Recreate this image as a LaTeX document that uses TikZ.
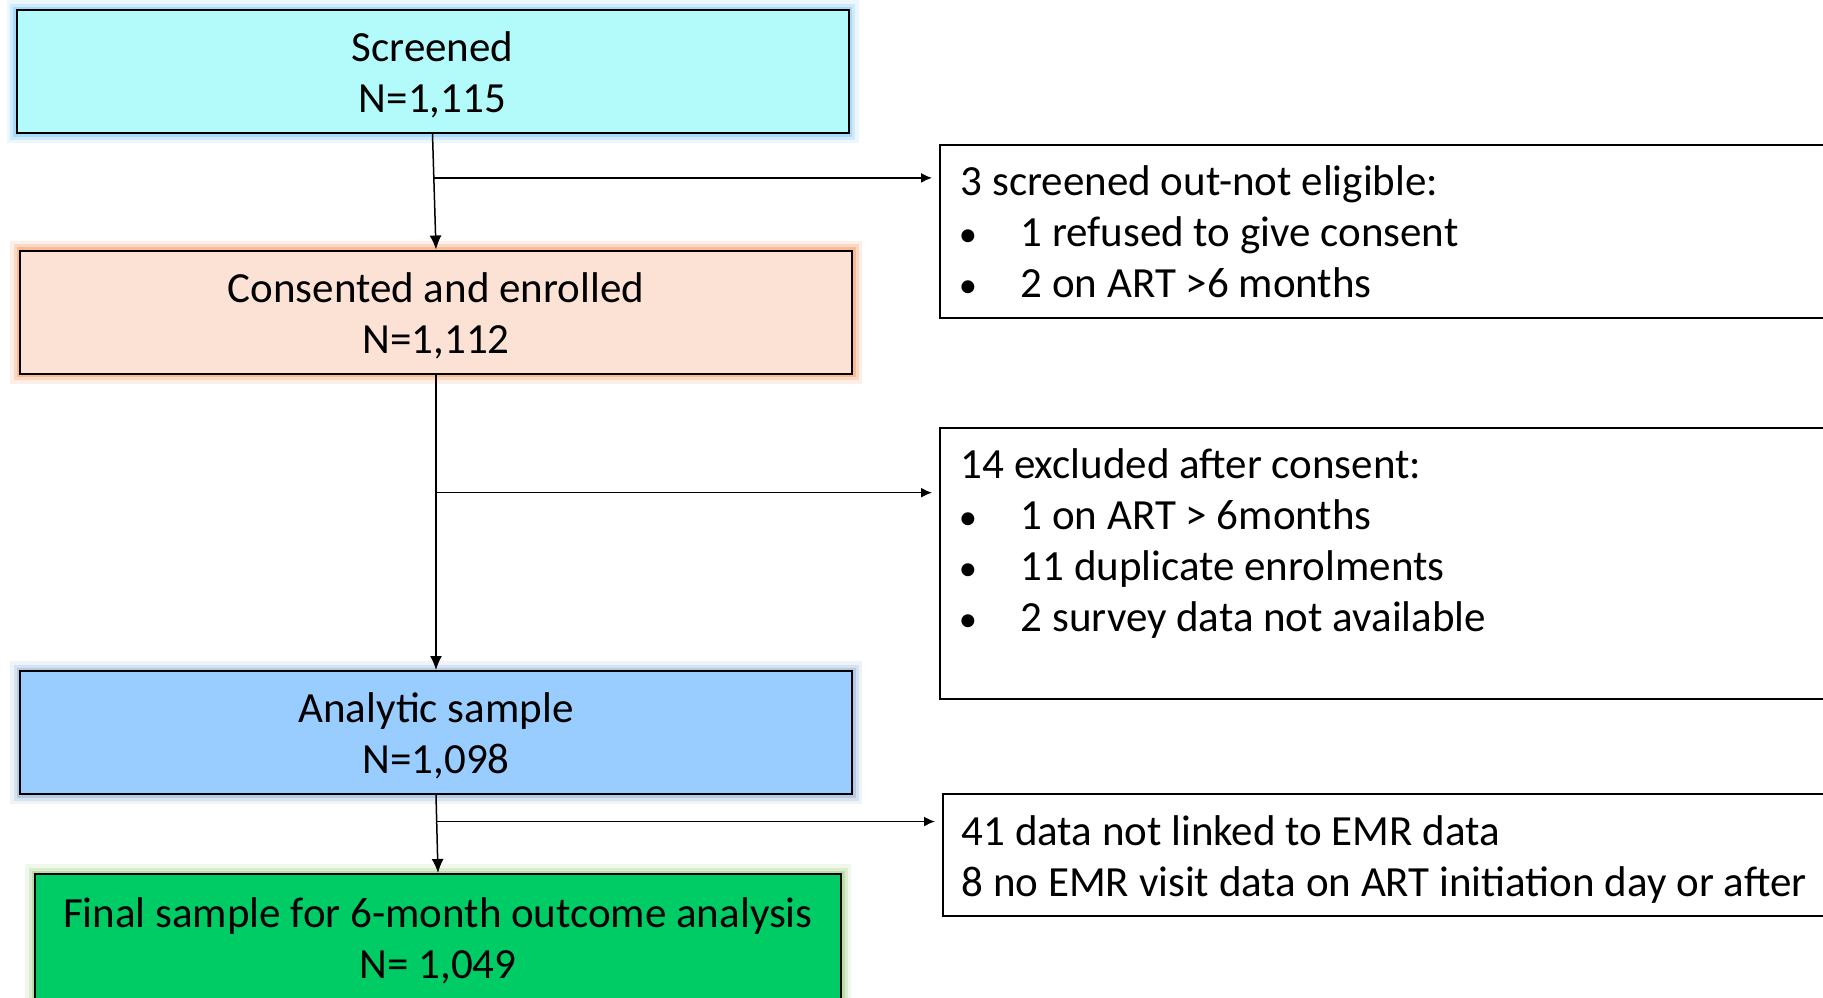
\documentclass[tikz,border=0pt]{standalone}
\usepackage{fontspec}
\setmainfont{Carlito}
\usetikzlibrary{arrows.meta,calc}
\definecolor{scrfill}{HTML}{B3FAFA}
\definecolor{scrglow}{HTML}{7CC8F6}
\definecolor{confill}{HTML}{FBE2D5}
\definecolor{conglow}{HTML}{F49A5E}
\definecolor{anafill}{HTML}{99CCFF}
\definecolor{anaglow}{HTML}{8FB0D6}
\definecolor{finfill}{HTML}{00CC66}
\definecolor{finglow}{HTML}{9CCB7E}
\newcommand\bul{\makebox[60pt][l]{\hspace{-2pt}\scalebox{0.85}{\textbullet}}}
\newcommand\toprule{\rule{0pt}{37pt}}
\begin{document}
\begin{tikzpicture}[x=1pt,y=-1pt,
  every node/.style={font=\fontsize{43}{51}\selectfont},
  mainbox/.style={draw=black, line width=2pt, minimum width=832pt,
    minimum height=123pt, align=center, inner sep=0pt},
  glow/.style={preaction={draw=#1, line width=20pt, opacity=0.15},
    preaction={draw=#1, line width=13pt, opacity=0.25},
    preaction={draw=#1, line width=7pt, opacity=0.45}},
  sidebox/.style={draw=black, line width=1.5pt, inner ysep=0pt, anchor=north west},
  flow/.style={line width=1.5pt, -{Latex[length=14pt,width=12pt]}},
  branch/.style={line width=1.5pt, -{Latex[length=11pt,width=10pt]}, shorten >=7pt}]
\clip (0,0) rectangle (1823,997);
\fill[white] (0,0) rectangle (1823,997);

% main column
\node[mainbox, fill=scrfill, glow=scrglow] (scr) at (432.5,71.5) {\toprule Screened\\N=1,115};
\node[mainbox, fill=confill, glow=conglow] (con) at (436,312) {\toprule Consented and enrolled\\N=1,112};
\node[mainbox, fill=anafill, glow=anaglow] (ana) at (436,732.5) {\toprule Analytic sample\\N=1,098};
\node[mainbox, fill=finfill, glow=finglow, minimum width=806pt, minimum height=126pt]
  (fin) at (438,937) {\toprule Final sample for 6-month outcome analysis\\N= 1,049};

% exclusion boxes
\node[sidebox, inner xsep=21pt] (ex1) at (939,144)
  {\parbox[c][173pt][c]{859pt}{3 screened out-not eligible:\\
    \bul 1 refused to give consent\\
    \bul 2 on ART >6 months}};
\node[sidebox, inner xsep=21pt] (ex2) at (939,427)
  {\parbox[c][271pt][t]{859pt}{\vspace*{15.5pt}\strut 14 excluded after consent:\\
    \bul 1 on ART > 6months\\
    \bul 11 duplicate enrolments\\
    \bul 2 survey data not available}};
\node[sidebox, inner xsep=19pt] (ex3) at (942,793)
  {\parbox[c][122pt][c]{860pt}{\vspace*{9pt}41 data not linked to EMR data\\
    8 no EMR visit data on ART initiation day or after}};

% flow arrows
\draw[flow] (scr.south) -- (con.north);
\draw[flow] (con.south) -- (ana.north);
\draw[flow] (ana.south) -- (fin.north);

% branch points and side arrows
\coordinate (b1) at ($(scr.south)!0.38!(con.north)$);
\coordinate (b2) at ($(con.south)!0.40!(ana.north)$);
\coordinate (b3) at ($(ana.south)!0.34!(fin.north)$);
\draw[branch] (b1) -- (b1 -| ex1.west);
\draw[branch] (b2) -- (b2 -| ex2.west);
\draw[branch] (b3) -- (b3 -| ex3.west);
\end{tikzpicture}
\end{document}
